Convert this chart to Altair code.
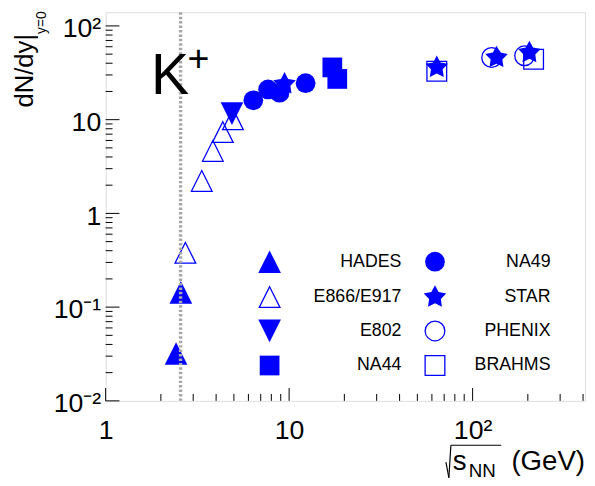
import altair as alt
import pandas as pd

# ---------------- data ----------------
hades_x = [2.42, 2.57]
hades_y = [0.032, 0.144]
e866_x = [2.72, 3.34, 3.84, 4.35, 4.94]
e866_y = [0.38, 2.22, 4.64, 7.37, 10.1]
e802_x = [4.88]
e802_y = [11.6]
na44_x = [17.2, 18.3]
na44_y = [36.1, 27.2]
na49_x = [6.38, 7.68, 8.87, 12.3]
na49_y = [16.1, 21.0, 19.4, 24.5]
star_x = [9.44, 63.8, 135, 204]
star_y = [24.1, 36.1, 46.0, 52.0]
phenix_x = [127, 192]
phenix_y = [46.0, 48.0]
brahms_x = [63.8, 215]
brahms_y = [32.8, 44.2]

threshold_x = [2.56]

legend_left = ["HADES", "E866/E917", "E802", "NA44"]
legend_right = ["NA49", "STAR", "PHENIX", "BRAHMS"]

x_major = [1, 10, 100]
x_minor = [2, 3, 4, 5, 6, 7, 8, 9, 20, 30, 40, 50, 60, 70, 80, 90, 200, 300, 400]
y_major = [0.01, 0.1, 1, 10, 100]
y_minor = [0.02, 0.03, 0.04, 0.05, 0.06, 0.07, 0.08, 0.09,
           0.2, 0.3, 0.4, 0.5, 0.6, 0.7, 0.8, 0.9,
           2, 3, 4, 5, 6, 7, 8, 9,
           20, 30, 40, 50, 60, 70, 80, 90]

series = {
    "HADES": (hades_x, hades_y),
    "E866/E917": (e866_x, e866_y),
    "E802": (e802_x, e802_y),
    "NA44": (na44_x, na44_y),
    "NA49": (na49_x, na49_y),
    "STAR": (star_x, star_y),
    "PHENIX": (phenix_x, phenix_y),
    "BRAHMS": (brahms_x, brahms_y),
}

# ---------------- styles ----------------
FONT = "Liberation Sans"
BLUE = "#0000ff"
W, H = 486, 394
TRI_UP = "M0,-1L1,1L-1,1Z"
TRI_DN = "M0,1L1,-1L-1,-1Z"
STAR = ("M0,-1L0.306,-0.421L0.951,-0.309L0.495,0.161L0.588,0.809L0,0.52"
        "L-0.588,0.809L-0.495,0.161L-0.951,-0.309L-0.306,-0.421Z")
styles = {
    "HADES": dict(shape=TRI_UP, size=529, filled=True),
    "E866/E917": dict(shape=TRI_UP, size=441, filled=False),
    "E802": dict(shape=TRI_DN, size=529, filled=True),
    "NA44": dict(shape="square", size=400, filled=True),
    "NA49": dict(shape="circle", size=400, filled=True),
    "STAR": dict(shape=STAR, size=576, filled=True),
    "PHENIX": dict(shape="circle", size=400, filled=False),
    "BRAHMS": dict(shape="square", size=400, filled=False),
}
draw_order = ["E866/E917", "PHENIX", "BRAHMS", "HADES", "E802", "NA49", "NA44", "STAR"]

xscale = alt.Scale(type="log", domain=[1, 410], nice=False)
yscale = alt.Scale(type="log", domain=[0.01, 140], nice=False)
xaxis = alt.Axis(values=x_major,
                 labelExpr="datum.value >= 100 ? '10\u00b2' : datum.value >= 10 ? '10' : '1'",
                 labelFontSize=27, labelFont=FONT, labelColor="black", labelPadding=17,
                 ticks=False, domain=False, grid=False, title=None,
                 labelFlush=False, labelOverlap=False)
yaxis = alt.Axis(values=y_major,
                 labelExpr=("datum.value >= 100 ? '10\u00b2' : datum.value >= 10 ? '10' : "
                            "datum.value >= 1 ? '1' : datum.value >= 0.1 ? '10\u207b\u00b9' : '10\u207b\u00b2'"),
                 labelFontSize=27, labelFont=FONT, labelColor="black", labelPadding=5,
                 labelOffset=3,
                 ticks=False, domain=False, grid=False, title=None,
                 labelFlush=False, labelOverlap=False)


def X(f):
    return alt.X(f, type="quantitative", scale=xscale, axis=xaxis)


def Y(f):
    return alt.Y(f, type="quantitative", scale=yscale, axis=yaxis)


one = alt.Data(values=[{}])
main_layers = []

# inward ticks
main_layers.append(alt.Chart(pd.DataFrame({"v": y_major})).mark_rule(color="black", strokeWidth=1)
                   .encode(y=Y("v"), x=alt.value(0), x2=alt.value(14)))
main_layers.append(alt.Chart(pd.DataFrame({"v": y_minor})).mark_rule(color="black", strokeWidth=1)
                   .encode(y=Y("v"), x=alt.value(0), x2=alt.value(7)))
main_layers.append(alt.Chart(pd.DataFrame({"v": x_major})).mark_rule(color="black", strokeWidth=1)
                   .encode(x=X("v"), y=alt.value(H), y2=alt.value(H - 13)))
main_layers.append(alt.Chart(pd.DataFrame({"v": x_minor})).mark_rule(color="black", strokeWidth=1)
                   .encode(x=X("v"), y=alt.value(H), y2=alt.value(H - 7)))

# data points
for name in draw_order:
    xs, ys = series[name]
    st = styles[name]
    df = pd.DataFrame({"x": xs, "y": ys})
    if st["filled"]:
        mk = alt.Chart(df).mark_point(shape=st["shape"], size=st["size"], filled=True,
                                      color=BLUE, opacity=1, strokeWidth=0)
    else:
        mk = alt.Chart(df).mark_point(shape=st["shape"], size=st["size"], filled=False,
                                      color=BLUE, opacity=1, strokeWidth=1.3)
    main_layers.append(mk.encode(x=X("x"), y=Y("y")))

# threshold line
main_layers.append(alt.Chart(pd.DataFrame({"x": threshold_x}))
                   .mark_rule(color="#a8a8a8", strokeWidth=3.5, strokeDash=[2.5, 2])
                   .encode(x=X("x")))


def txt(t, x, y, size, align="left", angle=0):
    kw = dict(text=t, font=FONT, fontSize=size, align=align, baseline="alphabetic", color="black")
    if angle:
        kw["angle"] = angle
    return alt.Chart(one).mark_text(**kw).encode(x=alt.value(x), y=alt.value(y))


def seg(x1, y1, x2, y2):
    return alt.Chart(one).mark_rule(color="black", strokeWidth=1.2).encode(
        x=alt.value(x1), y=alt.value(y1), x2=alt.value(x2), y2=alt.value(y2))


# K+ label
main_layers.append(txt("K", 46, 83, 58))
main_layers.append(txt("+", 83, 60, 38))
# y title
main_layers.append(txt("dN/dy|", -74, 22, 26, align="right", angle=270))
main_layers.append(txt("y=0", -60, 22, 14, align="left", angle=270))
# x title
main_layers.append(seg(345, 456, 348, 472))
main_layers.append(seg(348, 472, 350, 439))
main_layers.append(seg(350, 439, 401, 439))
main_layers.append(txt("s", 352, 464, 28))
main_layers.append(txt("NN", 368, 471, 19))
main_layers.append(txt("(GeV)", 486, 464, 28, align="right"))

main = alt.layer(*main_layers)

# ---------------- legend (own unit scales) ----------------
LEG_SYM_X = [0.342, 0.687]
LEG_TXT_X = [0.617, 0.928]
LEG_ROW_Y = [0.642, 0.733, 0.820, 0.909]
lx = alt.Scale(domain=[0, 1])
ly = alt.Scale(domain=[0, 1], reverse=True)

leg_layers = []
leg_rows = []
for c, names in enumerate([legend_left, legend_right]):
    for r, name in enumerate(names):
        st = styles[name]
        d = pd.DataFrame({"x": [LEG_SYM_X[c]], "y": [LEG_ROW_Y[r]]})
        if st["filled"]:
            mk = alt.Chart(d).mark_point(shape=st["shape"], size=st["size"], filled=True,
                                         color=BLUE, opacity=1, strokeWidth=0)
        else:
            mk = alt.Chart(d).mark_point(shape=st["shape"], size=st["size"], filled=False,
                                         color=BLUE, opacity=1, strokeWidth=1.3)
        leg_layers.append(mk.encode(x=alt.X("x:Q", scale=lx, axis=None),
                                    y=alt.Y("y:Q", scale=ly, axis=None)))
        leg_rows.append({"name": name, "x": LEG_TXT_X[c], "y": LEG_ROW_Y[r]})

leg_layers.append(alt.Chart(pd.DataFrame(leg_rows)).mark_text(
    font=FONT, fontSize=18, align="right", baseline="middle", color="black").encode(
    x=alt.X("x:Q", scale=lx, axis=None), y=alt.Y("y:Q", scale=ly, axis=None), text="name:N"))

legend = alt.layer(*leg_layers)

chart = (alt.layer(main, legend)
         .resolve_scale(x="independent", y="independent")
         .properties(width=W, height=H,
                     autosize=alt.AutoSizeParams(type="none"),
                     padding={"left": 99, "top": 1, "right": 2, "bottom": 82})
         .configure_view(stroke="black", strokeWidth=2)
         .configure(background="white"))

chart.save("out.html", embed_options={"renderer": "svg", "actions": False})
